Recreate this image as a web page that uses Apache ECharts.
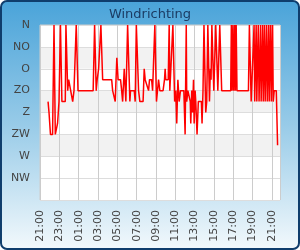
<!DOCTYPE html>
<html>
<head>
<meta charset="utf-8">
<script src="https://cdn.jsdelivr.net/npm/echarts@6/dist/echarts.min.js"></script>
<style>
html,body{margin:0;padding:0;background:#fff;}
#chart{width:300px;height:250px;}
</style>
</head>
<body>
<div id="chart"></div>
<script>
// Minutes since 21:00 (start of the axis)
var timeMinutes = [50,56,65,78,87,95,102,109,118,127,132,136,157,161,172,178,190,203,211,217,225,229,236,330,
339,343,349,355,364,372,378,383,389,445,451,463,467,477,485,500,507,513,523,533,544,550,558,562,585,
591,598,602,612,620,640,647,653,665,674,680,693,699,707,713,719,723,736,744,764,773,777,781,796,802,806,815,825,830,836,843,849,856,864,872,893,
895,901,908,911,918,927,933,936,942,947,953,957,963,967,975,983,1002,1006,1012,1018,1024,1029,1035,1042,1048,1052,1056,1058,1062,1067,1075,1079,1085,1091,1099,1104,1112,1116,1122,1128,
1184,1188,1193,1198,1203,1209,1213,1218,1223,1294,1300,1304,1311,1323,1329,1333,1342,1346,1355,1360,1369,1373,1382,1386,1394,1398,1407,1411,1420,1423,1432,1436,1444,1448,1454,1467,1475];
// Wind direction in degrees (0 = N)
var directionDeg = [157.5,180,225,225,0,225,225,202.5,157.5,0,0,157.5,157.5,0,135,112.5,112.5,157.5,135,135,0,0,135,135,
0,0,135,112.5,90,90,0,0,112.5,112.5,135,135,157.5,67.5,112.5,112.5,135,157.5,90,157.5,0,0,157.5,135,135,
157.5,0,0,135,157.5,157.5,90,112.5,112.5,135,112.5,112.5,135,135,0,0,157.5,112.5,135,135,112.5,90,112.5,112.5,0,135,135,0,0,157.5,135,202.5,112.5,157.5,135,135,
157.5,225,0,157.5,135,135,157.5,202.5,135,180,112.5,202.5,135,157.5,225,157.5,157.5,202.5,135,0,0,180,157.5,0,0,157.5,157.5,90,112.5,0,0,135,135,0,0,135,135,0,0,135,
135,0,135,0,135,0,135,0,135,135,0,0,157.5,157.5,0,157.5,0,157.5,0,157.5,0,157.5,0,157.5,0,157.5,0,157.5,0,157.5,0,157.5,0,157.5,135,135,247.5];
var directionLabels = ['N','NO','O','ZO','Z','ZW','W','NW',''];
var timeLabels = ['21:00','23:00','01:00','03:00','05:00','07:00','09:00','11:00','13:00','15:00','17:00','19:00','21:00'];
var titleText = 'Windrichting';

var seriesData = timeMinutes.map(function(t,i){return [t, directionDeg[i]];});
var FONT = 'DejaVu Sans';
var chart = echarts.init(document.getElementById('chart'), null, {renderer:'canvas'});
chart.setOption({
  animation:false,
  backgroundColor:'#ffffff',
  graphic:[{
    type:'rect', z:-10, silent:true,
    shape:{x:1,y:1,width:298,height:248,r:6},
    style:{
      fill:new echarts.graphic.LinearGradient(0,0,0,1,[
        {offset:0,color:'#49a3d9'},
        {offset:0.5,color:'#98cbe8'},
        {offset:1,color:'#f3f9fc'}
      ]),
      stroke:'#0f3d6c', lineWidth:2
    }
  }],
  title:{
    text:titleText, left:'center', top:3,
    textStyle:{fontFamily:FONT,fontSize:13,fontWeight:'normal',color:'#1b3c64'}
  },
  grid:{left:40,top:25,right:20,bottom:50,show:true,backgroundColor:'#ffffff',borderColor:'#cccccc',borderWidth:1},
  xAxis:{
    type:'value', min:0, max:1490, interval:120,
    axisLine:{show:false}, axisTick:{show:false},
    axisLabel:{rotate:90, margin:10, fontFamily:FONT, fontSize:11, color:'#444',
      showMaxLabel:false,
      formatter:function(v){var i=Math.round(v/120);return timeLabels[i]||'';}},
    splitLine:{show:true,lineStyle:{color:'#cccccc',width:1}}
  },
  yAxis:{
    type:'value', inverse:true, min:0, max:360, interval:45,
    axisLine:{show:false}, axisTick:{show:false},
    axisLabel:{margin:10, fontFamily:FONT, fontSize:11, color:'#444',
      formatter:function(v){return directionLabels[Math.round(v/45)];}},
    splitLine:{show:true,lineStyle:{color:'#dddddd',width:1}},
    splitArea:{show:true,areaStyle:{color:['#ffffff','#f2f2f2','#ffffff','#f2f2f2','#ffffff','#f2f2f2','#ffffff','#ffffff']}}
  },
  series:[{
    type:'line', data:seriesData, symbol:'none',
    lineStyle:{color:'#ff0000',width:1.5}
  }]
});
</script>
</body>
</html>
